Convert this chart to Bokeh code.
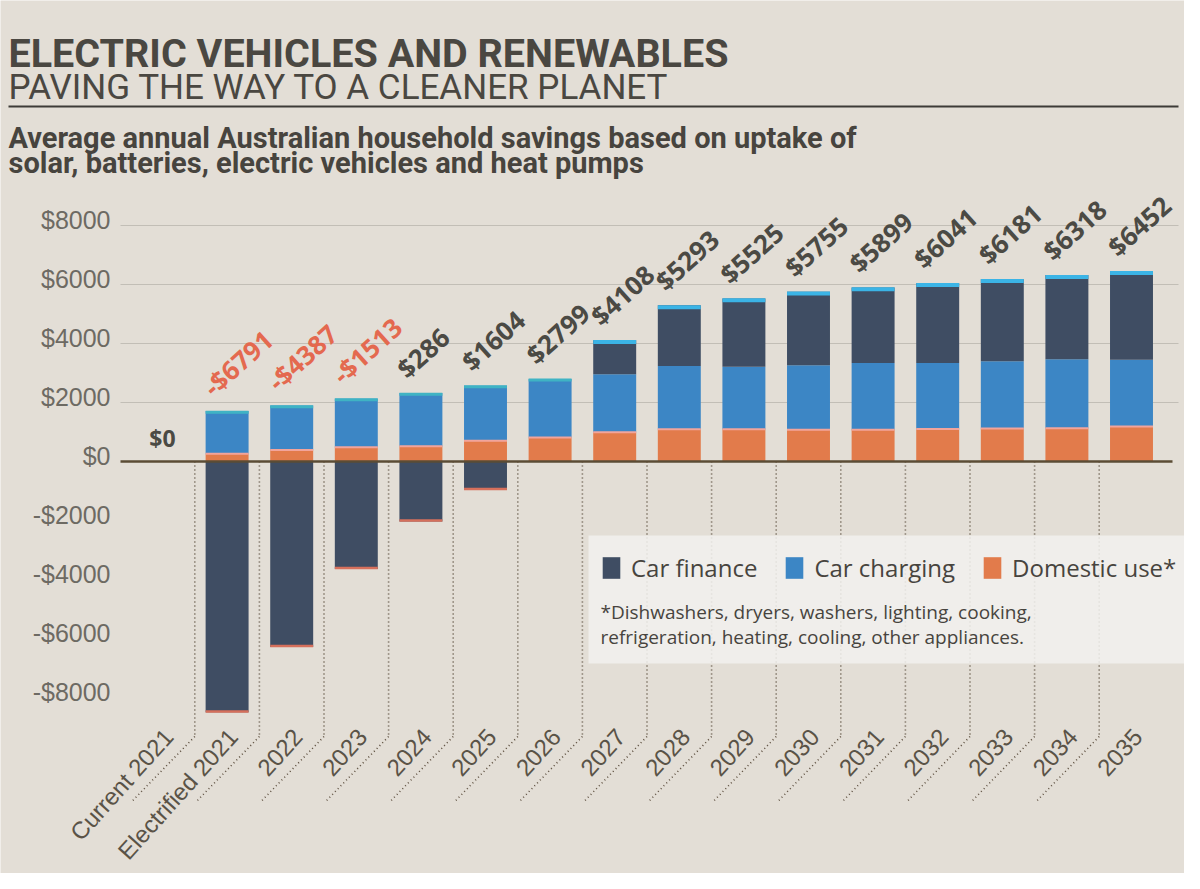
import numpy as np
from bokeh.plotting import figure
from bokeh.models import Range1d, Label, Legend, LegendItem, BoxAnnotation, ColumnDataSource
from bokeh.core.properties import value
from bokeh.embed import file_html
from bokeh.resources import INLINE

# ---------------- data ----------------
categories = ["Current 2021", "Electrified 2021", "2022", "2023", "2024", "2025", "2026",
              "2027", "2028", "2029", "2030", "2031", "2032", "2033", "2034", "2035"]
car_finance = [0, -8501, -6287, -3643, -2034, -966, 0, 1148, 2053, 2315, 2495, 2559, 2701, 2781, 2848, 3002]
car_charging = [0, 1450, 1510, 1650, 1800, 1870, 1989, 1970, 2150, 2120, 2180, 2260, 2240, 2280, 2340, 2260]
domestic_use = [0, 260, 390, 480, 520, 700, 810, 990, 1090, 1090, 1080, 1080, 1100, 1120, 1130, 1190]
totals = [0, -6791, -4387, -1513, 286, 1604, 2799, 4108, 5293, 5525, 5755, 5899, 6041, 6181, 6318, 6452]
total_labels = ["$0", "-$6791", "-$4387", "-$1513", "$286", "$1604", "$2799", "$4108", "$5293",
                "$5525", "$5755", "$5899", "$6041", "$6181", "$6318", "$6452"]
y_ticks = [8000, 6000, 4000, 2000, 0, -2000, -4000, -6000, -8000]
y_tick_labels = ["$8000", "$6000", "$4000", "$2000", "$0", "-$2000", "-$4000", "-$6000", "-$8000"]
grid_ticks = [8000, 6000, 4000, 2000]

# ---------------- geometry ----------------
W, H = 1184, 873
PX = 64.6          # pixels per category
C0 = 162.0         # page x of first category centre
Y0 = 461.0         # page y of $0
PY = 0.0295        # pixels per dollar

def dx(px):
    return (px - C0) / PX

def dy(py):
    return (Y0 - py) / PY

DARK = "#3f4d63"
BLUE = "#3c86c5"
ORANGE = "#e27b4b"
TEXT = "#47443e"
BG = "#e3ded6"

p = figure(width=W, height=H, output_backend="svg", toolbar_location=None,
           x_range=Range1d(dx(0), dx(W)), y_range=Range1d(dy(H), dy(0)),
           x_axis_location=None, y_axis_location=None, min_border=0,
           background_fill_color=BG, border_fill_color=BG, outline_line_color=None)
p.grid.grid_line_color = None

idx = np.arange(len(categories), dtype=float)
fin = np.array(car_finance, dtype=float)
chg = np.array(car_charging, dtype=float)
dom = np.array(domestic_use, dtype=float)

dom_top = dom
chg_bot = dom
chg_top = dom + chg
fin_bot = np.where(fin >= 0, chg_top, fin)
fin_top = np.where(fin >= 0, chg_top + fin, 0.0)
bar_top = np.maximum(fin_top, chg_top)

BW = 0.665
src = ColumnDataSource(dict(x=idx, dom_top=dom_top, chg_bot=chg_bot, chg_top=chg_top,
                            fin_bot=fin_bot, fin_top=fin_top))

# gridlines
p.segment(x0=dx(120), x1=dx(1178), y0=grid_ticks, y1=grid_ticks,
          line_color="#c2beb6", line_width=1.2)

# dotted leader lines between categories
bounds = idx[:-1] + 0.5
YB = -275 / PY
p.segment(x0=bounds, x1=bounds, y0=0, y1=YB, line_color="#5e5040",
          line_width=1.6, line_dash="1 3")
p.segment(x0=bounds, x1=bounds - 62 / PX, y0=YB, y1=YB - 64 / PY, line_color="#5e5040",
          line_width=1.6, line_dash="1 3")

# bars
r_dom = p.vbar(x="x", width=BW, bottom=0, top="dom_top", source=src,
               fill_color=ORANGE, line_color=None)
r_chg = p.vbar(x="x", width=BW, bottom="chg_bot", top="chg_top", source=src,
               fill_color=BLUE, line_color=None)
r_fin = p.vbar(x="x", width=BW, bottom="fin_bot", top="fin_top", source=src,
               fill_color=DARK, line_color=None)

# thin highlight edges on segments
pos = fin > 0
neg = fin < 0
p.segment(x0=(idx - BW / 2)[pos], x1=(idx + BW / 2)[pos], y0=fin_top[pos] - 60, y1=fin_top[pos] - 60,
          line_color="#3bb4e6", line_width=4)
top_blue = (fin <= 0) & (chg > 0)
p.segment(x0=(idx - BW / 2)[top_blue], x1=(idx + BW / 2)[top_blue],
          y0=chg_top[top_blue] - 40, y1=chg_top[top_blue] - 40, line_color="#3fb3c4", line_width=3)
has_dom = dom > 0
p.segment(x0=(idx - BW / 2)[has_dom], x1=(idx + BW / 2)[has_dom],
          y0=dom_top[has_dom], y1=dom_top[has_dom], line_color="#f2a49b", line_width=2)
p.segment(x0=(idx - BW / 2)[neg], x1=(idx + BW / 2)[neg], y0=fin_bot[neg] + 30, y1=fin_bot[neg] + 30,
          line_color="#d6705c", line_width=2.5)

# zero line
p.segment(x0=dx(120), x1=dx(1172), y0=0, y1=0, line_color="#5b4c35", line_width=2.5)

# y tick labels
p.text(x=dx(110), y=np.array(y_ticks) + 6 / PY, text=y_tick_labels,
       text_font=value("Liberation Sans"), text_font_size="25px", text_color="#6d6a63",
       text_align="right", text_baseline="middle")

# total labels
t_col = ["#e4694f" if t < 0 else "#4b4a44" for t in totals]
src_t = ColumnDataSource(dict(x=idx[1:] - 8 / PX, y=bar_top[1:] + 7 / PY, t=total_labels[1:], c=t_col[1:]))
p.text(x="x", y="y", text="t", text_color="c", source=src_t, angle=np.deg2rad(42),
       text_font=value("Open Sans"), text_font_style="bold", text_font_size="26px",
       text_align="left", text_baseline="bottom")
p.text(x=idx[:1], y=bar_top[:1] + 8 / PY, text=total_labels[:1], text_color="#4b4a44",
       text_font=value("Open Sans"), text_font_style="bold", text_font_size="23px",
       text_align="center", text_baseline="bottom")

# category labels
p.text(x=idx + 6 / PX, y=np.full(len(idx), YB + 4 / PY), text=categories,
       angle=np.deg2rad(48), text_font=value("Liberation Sans"), text_font_size="24px",
       text_color="#5a5347", text_align="right", text_baseline="middle")

# legend box
box = BoxAnnotation(left=dx(588), right=dx(1188), top=dy(535), bottom=dy(663),
                    fill_color="#f2f1ee", fill_alpha=0.85, line_color=None)
p.add_layout(box)

legend = Legend(items=[LegendItem(label="Car finance", renderers=[r_fin]),
                       LegendItem(label="Car charging", renderers=[r_chg]),
                       LegendItem(label="Domestic use*", renderers=[r_dom])],
                orientation="horizontal", location=(600, H - 584),
                background_fill_alpha=0, border_line_color=None,
                label_text_font="Open Sans", label_text_font_size="24px",
                label_text_color=TEXT, glyph_width=22, glyph_height=27,
                spacing=26, label_standoff=9, padding=0, margin=0)
p.add_layout(legend)

for txt, yy in [("*Dishwashers, dryers, washers, lighting, cooking,", 611),
                ("refrigeration, heating, cooling, other appliances.", 636)]:
    p.add_layout(Label(x=dx(600), y=dy(yy), text=txt, text_font="Open Sans",
                       text_font_size="19px", text_color=TEXT, text_baseline="middle"))

# titles
p.add_layout(Label(x=dx(8), y=dy(53), text="ELECTRIC VEHICLES AND RENEWABLES",
                   text_font="Roboto", text_font_style="bold", text_font_size="39.5px",
                   text_color="#4a4741", text_baseline="middle"))
p.add_layout(Label(x=dx(8), y=dy(87), text="PAVING THE WAY TO A CLEANER PLANET",
                   text_font="Roboto", text_font_size="35px",
                   text_color="#4a4741", text_baseline="middle"))
p.segment(x0=dx(8), x1=dx(1178), y0=dy(106), y1=dy(106), line_color="#3d3b37", line_width=2)
p.add_layout(Label(x=dx(8), y=dy(137), text="Average annual Australian household savings based on uptake of",
                   text_font="Roboto", text_font_style="bold", text_font_size="29px",
                   text_color=TEXT, text_baseline="middle"))
p.add_layout(Label(x=dx(8), y=dy(162), text="solar, batteries, electric vehicles and heat pumps",
                   text_font="Roboto", text_font_style="bold", text_font_size="29px",
                   text_color=TEXT, text_baseline="middle"))

open("out.html", "w").write(file_html(p, INLINE))
